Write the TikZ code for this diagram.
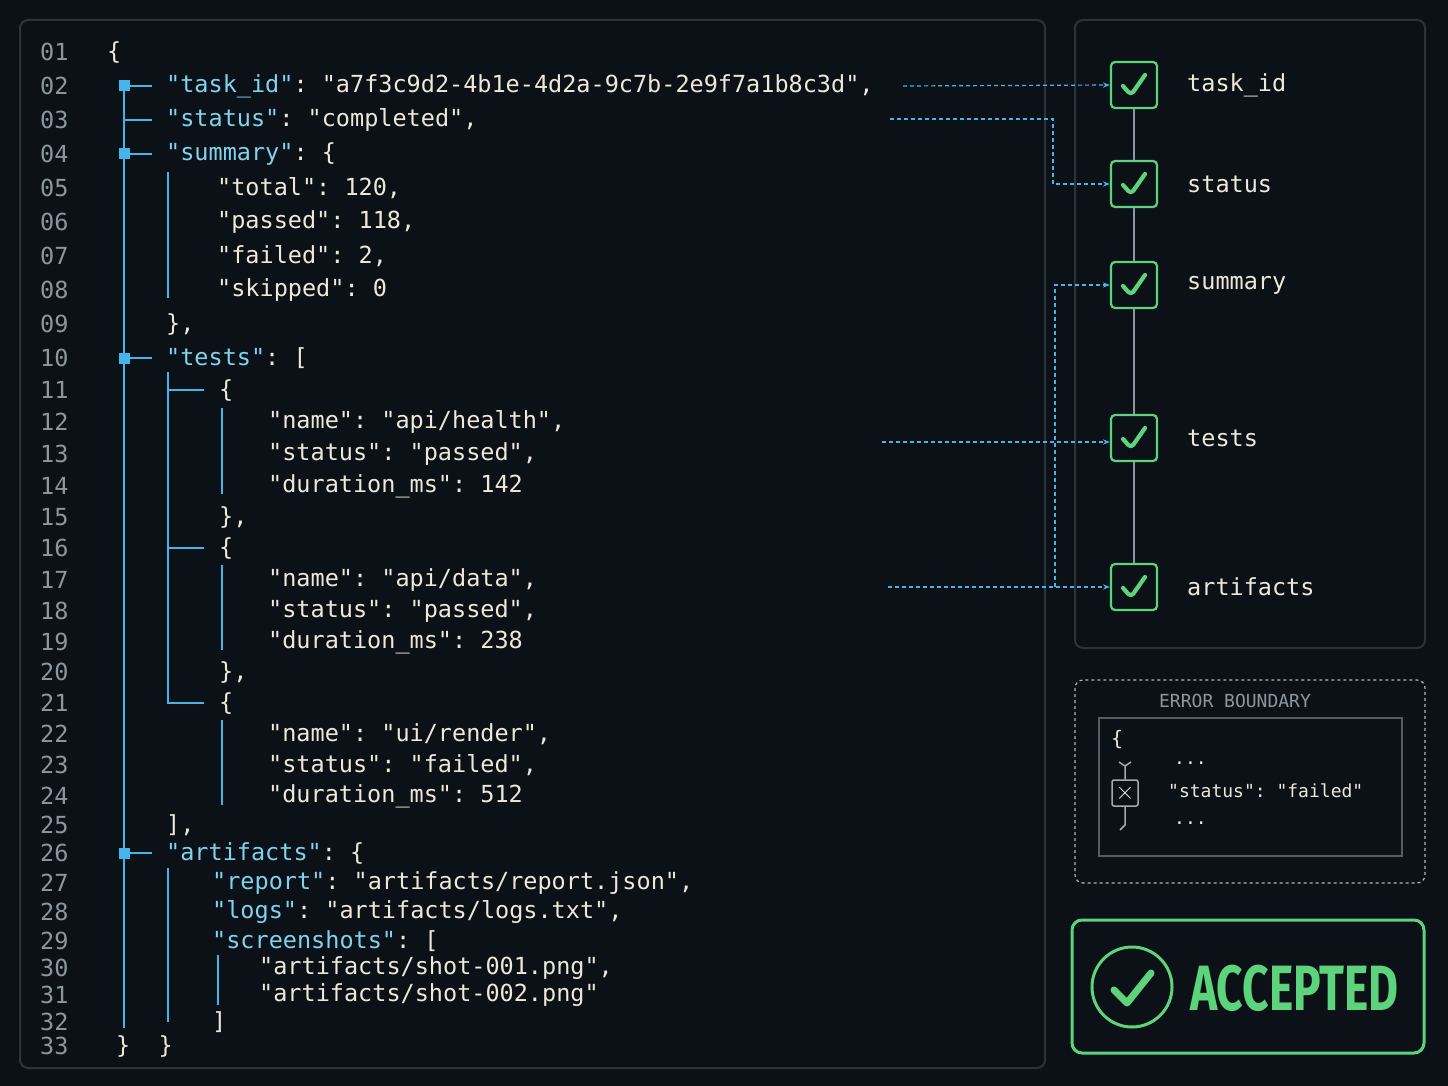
\documentclass[tikz,border=0pt]{standalone}
\usepackage{fontspec}
\usepackage{graphicx}
\setmonofont{DejaVu Sans Mono}
\setmainfont{Fira Sans}
\usetikzlibrary{arrows.meta}
\definecolor{bgc}{HTML}{0B1117}
\definecolor{framec}{HTML}{2C333B}
\definecolor{treec}{HTML}{45B4E8}
\definecolor{keyc}{HTML}{7FD3EE}
\definecolor{txtc}{HTML}{EEE8D8}
\definecolor{numc}{HTML}{8C96A0}
\definecolor{okc}{HTML}{5DD47C}
\newcommand{\ky}[1]{\textcolor{keyc}{#1}}
\tikzset{
  code/.style={anchor=west,inner sep=0pt,text=txtc,font=\ttfamily\fontsize{23.5}{24}\selectfont},
  lnum/.style={anchor=west,inner sep=0pt,text=numc,font=\ttfamily\fontsize{23.5}{24}\selectfont},
  tree/.style={draw=treec,line width=2.4pt},
  knot/.style={fill=treec,minimum size=11pt,inner sep=0pt},
  chk/.style={draw=okc,line width=2.2pt,rounded corners=4pt,minimum size=46pt,inner sep=0pt},
  link/.style={draw=treec,dash pattern=on 4pt off 3pt,line width=1.2pt,-{Stealth[length=7pt]}},
  panel/.style={draw=framec,line width=2pt,rounded corners=8pt}
}
\newcommand{\tick}{\tikz[baseline=-2pt]\draw[okc,line width=4.2pt,line cap=round,line join=round](-11pt,0pt)--(-3pt,-9pt)--(11pt,11pt);}
\begin{document}
\begin{tikzpicture}[x=1pt,y=-1pt]
\fill[bgc] (0,0) rectangle (1448,1086);
\useasboundingbox (0,0) rectangle (1448,1086);
\draw[panel] (20,20) rectangle (1045,1068);
\draw[panel] (1075,20) rectangle (1425,648);

% line numbers
\foreach \n/\y in {01/52,02/86,03/120,04/154,05/188,06/222,07/256,08/290,09/324,10/358,
  11/390,12/422,13/454,14/486,15/517,16/548,17/580,18/611,19/642,20/672,21/703,22/734,
  23/765,24/796,25/825,26/853,27/883,28/912,29/941,30/968,31/995,32/1022,33/1046}
  \node[lnum] (n\n) at (40,\y) {\n};

% code
\node[code] (L01) at (107,52) {\{};
\node[code] (L02) at (166,86) {\ky{"task\_id"}: "a7f3c9d2-4b1e-4d2a-9c7b-2e9f7a1b8c3d",};
\node[code] (L03) at (166,120) {\ky{"status"}: "completed",};
\node[code] (L04) at (166,154) {\ky{"summary"}: \{};
\node[code] (L05) at (217,188) {"total": 120,};
\node[code] (L06) at (217,222) {"passed": 118,};
\node[code] (L07) at (217,256) {"failed": 2,};
\node[code] (L08) at (217,290) {"skipped": 0};
\node[code] (L09) at (166,324) {\},};
\node[code] (L10) at (166,358) {\ky{"tests"}: [};
\node[code] (L11) at (219,390) {\{};
\node[code] (L12) at (268,422) {"name": "api/health",};
\node[code] (L13) at (268,454) {"status": "passed",};
\node[code] (L14) at (268,486) {"duration\_ms": 142};
\node[code] (L15) at (219,517) {\},};
\node[code] (L16) at (219,548) {\{};
\node[code] (L17) at (268,580) {"name": "api/data",};
\node[code] (L18) at (268,611) {"status": "passed",};
\node[code] (L19) at (268,642) {"duration\_ms": 238};
\node[code] (L20) at (219,672) {\},};
\node[code] (L21) at (219,703) {\{};
\node[code] (L22) at (268,734) {"name": "ui/render",};
\node[code] (L23) at (268,765) {"status": "failed",};
\node[code] (L24) at (268,796) {"duration\_ms": 512};
\node[code] (L25) at (166,825) {],};
\node[code] (L26) at (166,853) {\ky{"artifacts"}: \{};
\node[code] (L27) at (212,883) {\ky{"report"}: "artifacts/report.json",};
\node[code] (L28) at (212,912) {\ky{"logs"}: "artifacts/logs.txt",};
\node[code] (L29) at (212,941) {\ky{"screenshots"}: [};
\node[code] (L30) at (259,968) {"artifacts/shot-001.png",};
\node[code] (L31) at (259,995) {"artifacts/shot-002.png"};
\node[code] (L32) at (212,1022) {]};
\node[code] (L33) at (116,1046) {\}\ \ \}};

% tree guides
\draw[tree] (124,80) -- (124,1028);
\foreach \y in {86,120,154,358,853} \draw[tree] (124,\y) -- (152,\y);
\foreach \y in {86,154,358,853} \node[knot] at (124,\y) {};
\draw[tree] (168,172) -- (168,298);
\draw[tree] (168,372) -- (168,703) -- (204,703);
\foreach \y in {390,548} \draw[tree] (168,\y) -- (204,\y);
\draw[tree] (222,408) -- (222,494);
\draw[tree] (222,565) -- (222,650);
\draw[tree] (222,720) -- (222,805);
\draw[tree] (168,868) -- (168,1022);
\draw[tree] (218,955) -- (218,1005);

% checklist
\foreach \k/\t/\y in {tid/task\_id/85,st/status/184,sm/summary/285,ts/tests/438,ar/artifacts/587}{
  \node[chk] (c-\k) at (1134,\y) {\tick};
  \node[code] (t-\k) at (1187,\y) {\t};
}
\foreach \a/\b in {tid/st,st/sm,sm/ts,ts/ar}
  \draw[numc,line width=1.5pt] (c-\a) -- (c-\b);

% links from code to checklist
\coordinate (s1) at (903,86);
\coordinate (s2) at (890,119);
\coordinate (s4) at (882,442);
\coordinate (s5) at (888,587);
\coordinate (j5) at (1055,587);
\draw[link] (s1) -- (c-tid.west);
\draw[link] (s2) -| (1053,184) -- (c-st.west);
\draw[link] (s4) -- (c-ts.west |- s4);
\draw[link] (s5) -- (c-ar.west);
\draw[link] (j5) |- (c-sm.west);

% error boundary
\draw[draw=numc!70,dashed,line width=1.2pt,rounded corners=8pt] (1075,680) rectangle (1425,883);
\node[code,anchor=center,text=numc,font=\ttfamily\fontsize{18}{20}\selectfont] (eb) at (1235,701) {ERROR BOUNDARY};
\draw[draw=framec!80!white,line width=1.5pt] (1099,718) rectangle (1402,856);
\node[code,font=\ttfamily\fontsize{20}{20}\selectfont] (e1) at (1111,740) {\{};
\node[code,font=\ttfamily\fontsize{18}{20}\selectfont] (e2) at (1174,763) {...};
\node[code,font=\ttfamily\fontsize{18}{20}\selectfont] (e3) at (1168,791) {"status": "failed"};
\node[code,font=\ttfamily\fontsize{18}{20}\selectfont] (e4) at (1174,823) {...};
\node[draw=numc!80!white,line width=1.5pt,rounded corners=2pt,minimum size=26pt,inner sep=0pt,text=txtc,font=\fontsize{24}{24}\selectfont] (ex) at (1125,793) {$\times$};
\draw[numc!80!white,line width=1.5pt] (1119,762) -- (1125,766) -- (1131,762) (1125,766) -- (ex.north);
\draw[numc!80!white,line width=1.5pt] (ex.south) -- (1125,825) -- (1120,830);

% verdict
\draw[okc,line width=3pt,rounded corners=10pt] (1072,920) rectangle (1424,1053);
\node[draw=okc,circle,line width=3pt,minimum size=80pt,inner sep=0pt] (vc) at (1132,987) {};
\draw[okc,line width=7pt,line cap=round,line join=round] (1114,990) -- (1127,1003) -- (1151,973);
\node[anchor=west,inner sep=0pt,text=okc,font=\bfseries\fontsize{64}{64}\selectfont] (acc) at (1190,988) {\scalebox{0.72}[1]{ACCEPTED}};
\end{tikzpicture}
\end{document}
